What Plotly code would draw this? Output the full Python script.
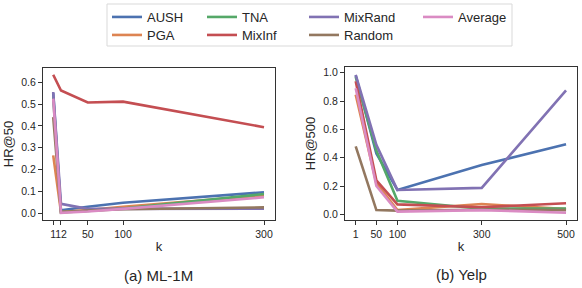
import plotly.graph_objects as go

names = ["AUSH", "PGA", "TNA", "MixInf", "MixRand", "Random", "Average"]
colors = ["#4c72b0", "#dd8452", "#55a868", "#c44e52", "#8172b3", "#937860", "#da8bc3"]

k_ml = [1, 12, 50, 100, 300]
k_ml_labels = ["1", "12", "50", "100", "300"]
hr50_ml = {
    "AUSH":    [0.550, 0.013, 0.030, 0.048, 0.096],
    "PGA":     [0.265, 0.005, 0.015, 0.030, 0.082],
    "TNA":     [0.530, 0.004, 0.010, 0.022, 0.088],
    "MixInf":  [0.634, 0.562, 0.507, 0.511, 0.394],
    "MixRand": [0.555, 0.043, 0.020, 0.020, 0.021],
    "Random":  [0.440, 0.005, 0.012, 0.018, 0.027],
    "Average": [0.525, 0.002, 0.008, 0.020, 0.073],
}

k_yelp = [1, 50, 100, 300, 500]
k_yelp_labels = ["1", "50", "100", "300", "500"]
hr500_yelp = {
    "AUSH":    [0.980, 0.430, 0.172, 0.348, 0.495],
    "PGA":     [0.845, 0.220, 0.030, 0.073, 0.037],
    "TNA":     [0.970, 0.450, 0.096, 0.040, 0.040],
    "MixInf":  [0.940, 0.240, 0.070, 0.050, 0.078],
    "MixRand": [0.985, 0.490, 0.172, 0.187, 0.875],
    "Random":  [0.480, 0.030, 0.026, 0.032, 0.030],
    "Average": [0.890, 0.200, 0.019, 0.030, 0.011],
}

W, H = 582, 288
def px(x): return x / W
def py(y): return 1 - y / H

# legend grid: (text-left pixel of column, row) per series
legend_cols = [107, 107, 202, 202, 304, 304, 418]
legend_rows = [0, 1, 0, 1, 0, 1, 0]
row_top = [2, 20]

fig = go.Figure()
for i, (n, c) in enumerate(zip(names, colors)):
    lg = "legend" if i == 0 else f"legend{i + 1}"
    fig.add_trace(go.Scatter(x=k_ml, y=hr50_ml[n], mode="lines", name=n,
                             line=dict(color=c, width=2.6), legend=lg,
                             xaxis="x", yaxis="y"))
for n, c in zip(names, colors):
    fig.add_trace(go.Scatter(x=k_yelp, y=hr500_yelp[n], mode="lines", name=n,
                             line=dict(color=c, width=2.6), showlegend=False,
                             xaxis="x2", yaxis="y2"))

FONT = "Liberation Sans, Arial, sans-serif"
axis_common = dict(showline=True, linecolor="#333333", linewidth=1, mirror=True,
                   ticks="outside", ticklen=4, tickwidth=1, tickcolor="#333333",
                   showgrid=False, zeroline=False, automargin=False, tickangle=0,
                   tickfont=dict(size=10.5, color="#262626", family=FONT),
                   title_font=dict(size=13, color="#262626", family=FONT))

leg_common = dict(orientation="v", xanchor="left", yanchor="top",
                  bgcolor="rgba(0,0,0,0)", borderwidth=0, tracegroupgap=0,
                  font=dict(size=13, color="#262626", family=FONT), itemwidth=30)

legends = {}
for i in range(len(names)):
    key = "legend" if i == 0 else f"legend{i + 1}"
    legends[key] = dict(x=px(legend_cols[i]), y=py(row_top[legend_rows[i]]), **leg_common)

fig.update_layout(
    width=W, height=H, margin=dict(l=0, r=0, t=0, b=0, autoexpand=False),
    plot_bgcolor="white", paper_bgcolor="white",
    font=dict(family=FONT, color="#262626"),
    xaxis=dict(domain=[px(43), px(275)], range=[-13.5, 315.6], anchor="y",
               tickvals=k_ml, ticktext=k_ml_labels,
               title=dict(text="k", standoff=3), **axis_common),
    yaxis=dict(domain=[py(220), py(68)], range=[-0.031, 0.665], anchor="x",
               tickvals=[0, 0.1, 0.2, 0.3, 0.4, 0.5, 0.6],
               ticktext=["0.0", "0.1", "0.2", "0.3", "0.4", "0.5", "0.6"],
               title=dict(text="HR@50", standoff=4), **axis_common),
    xaxis2=dict(domain=[px(345), px(577)], range=[-24.4, 526], anchor="y2",
                tickvals=k_yelp, ticktext=k_yelp_labels,
                title=dict(text="k", standoff=3), **axis_common),
    yaxis2=dict(domain=[py(220), py(67)], range=[-0.04, 1.04], anchor="x2",
                tickvals=[0, 0.2, 0.4, 0.6, 0.8, 1.0],
                ticktext=["0.0", "0.2", "0.4", "0.6", "0.8", "1.0"],
                title=dict(text="HR@500", standoff=4), **axis_common),
    shapes=[dict(type="rect", xref="paper", yref="paper",
                 x0=px(107), x1=px(512), y0=py(46), y1=py(4),
                 line=dict(color="#d9d9d9", width=1), fillcolor="rgba(0,0,0,0)")],
    annotations=[
        dict(text="(a) ML-1M", x=px(159), y=py(275), xref="paper", yref="paper",
             showarrow=False, font=dict(size=15, color="#262626", family=FONT),
             xanchor="center", yanchor="middle"),
        dict(text="(b) Yelp", x=px(461), y=py(274), xref="paper", yref="paper",
             showarrow=False, font=dict(size=15, color="#262626", family=FONT),
             xanchor="center", yanchor="middle"),
    ],
    **legends,
)

fig.write_html("out.html", config={"displayModeBar": False},
               post_script="document.body.style.margin='0';document.body.style.overflow='hidden';")
